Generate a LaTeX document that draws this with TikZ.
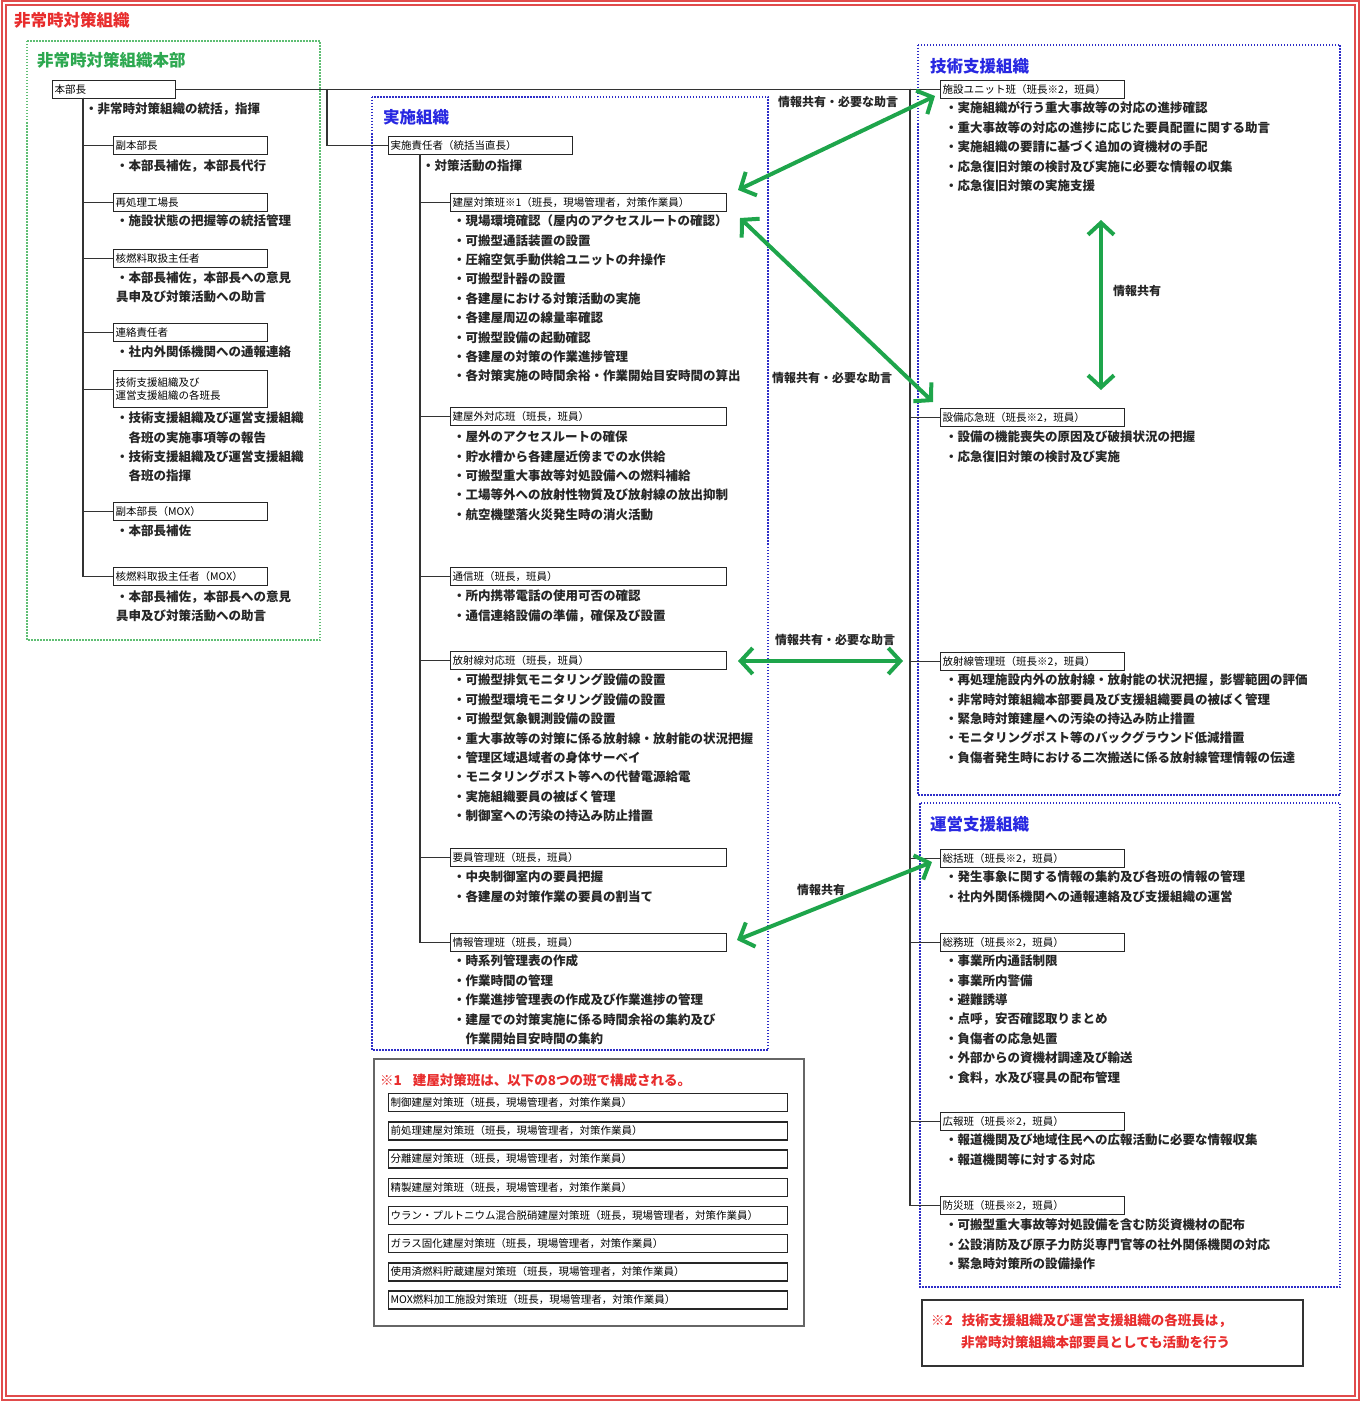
\documentclass[tikz,border=0pt]{standalone}
\usepackage{fontspec}
\setmainfont{Noto Sans CJK JP}
\usetikzlibrary{arrows.meta}

\definecolor{redT}{RGB}{232,45,45}
\definecolor{greenT}{RGB}{45,168,80}
\definecolor{blueT}{RGB}{40,40,225}
\definecolor{arrowG}{RGB}{30,165,75}
\definecolor{frameR}{RGB}{225,75,75}
\definecolor{dotG}{RGB}{95,190,115}
\definecolor{dotB}{RGB}{45,45,200}

\newcommand\boxfont{\fontsize{10.5}{13}\selectfont}
\newcommand\itemfont{\fontsize{12.5}{19.4}\selectfont\bfseries}
\newcommand\headfont{\fontsize{16.5}{20}\selectfont\bfseries}

\tikzset{
  hanbox/.style={draw=black!85, line width=1.3pt, anchor=north west, inner sep=2pt, minimum height=18pt, text width=#1, align=left, font=\boxfont},
  hanbox/.default=150pt,
  items/.style={anchor=north west, inner sep=0pt, align=left, font=\itemfont, text=black!85, yshift=6.3pt},
  head/.style={anchor=west, inner sep=0pt, font=\headfont},
  dotbox/.style={line width=1.5pt, dash pattern=on 1.5pt off 1.5pt},
  tree/.style={line width=1.2pt, draw=black!80},
  infoarrow/.style={draw=arrowG, line width=4pt, {Straight Barb[length=12pt,width=26pt]}-{Straight Barb[length=12pt,width=26pt]}},
  infolabel/.style={font=\fontsize{12}{14}\selectfont\bfseries, inner sep=0pt, text=black!85},
  notebox/.style={line width=2.8pt},
  notetext/.style={anchor=north west, inner sep=0pt, align=left, text=redT, font=\fontsize{13.5}{22}\selectfont\bfseries, yshift=6.8pt},
}

\begin{document}
\begin{tikzpicture}[x=1pt,y=-1pt]
\useasboundingbox (0,0) rectangle (1362,1402);
\draw[frameR, line width=1.5pt, double=white, double distance=2.5pt] (4,3) rectangle (1357,1398);
\node[head, text=redT] (title) at (14,20) {非常時対策組織};

% headquarters
\draw[dotbox, draw=dotG] (27,41) rectangle (320,640);
\node[head, text=greenT] (hqtitle) at (37,60) {非常時対策組織本部};
\node[hanbox=119pt] (hq) at (52,80) {本部長};
\node[items] (hqi) at (85,109) {・非常時対策組織の統括，指揮};
\node[hanbox] (l1) at (113,136) {副本部長};
\node[items] (l1i) at (116,166) {・本部長補佐，本部長代行};
\node[hanbox] (l2) at (113,193) {再処理工場長};
\node[items] (l2i) at (116,221) {・施設状態の把握等の統括管理};
\node[hanbox] (l3) at (113,249) {核燃料取扱主任者};
\node[items] (l3i) at (116,278) {・本部長補佐，本部長への意見\\具申及び対策活動への助言};
\node[hanbox] (l4) at (113,323) {連絡責任者};
\node[items] (l4i) at (116,352) {・社内外関係機関への通報連絡};
\node[hanbox, minimum height=37pt] (l5) at (113,370) {技術支援組織及び\\運営支援組織の各班長};
\node[items] (l5i) at (116,418) {・技術支援組織及び運営支援組織\\\phantom{・}各班の実施事項等の報告\\・技術支援組織及び運営支援組織\\\phantom{・}各班の指揮};
\node[hanbox] (l6) at (113,502) {副本部長（MOX）};
\node[items] (l6i) at (116,531) {・本部長補佐};
\node[hanbox] (l7) at (113,567) {核燃料取扱主任者（MOX）};
\node[items] (l7i) at (116,597) {・本部長補佐，本部長への意見\\具申及び対策活動への助言};
\coordinate (lspine) at (83,98);
\foreach \n in {l1,l2,l3,l4,l5,l6,l7}
  \draw[tree] (lspine) |- (\n.west);

% execution
\draw[dotbox, draw=dotB] (372,97) rectangle (768,1050);
\node[head, text=blueT] (extitle) at (383,117) {実施組織};
\node[hanbox=180pt] (jc) at (388,136) {実施責任者（統括当直長）};
\node[items] (jci) at (422,166) {・対策活動の指揮};
\node[hanbox=272pt] (m1) at (450,193) {建屋対策班※1（班長，現場管理者，対策作業員）};
\node[items] (m1i) at (453,221) {・現場環境確認（屋内のアクセスルートの確認）\\・可搬型通話装置の設置\\・圧縮空気手動供給ユニットの弁操作\\・可搬型計器の設置\\・各建屋における対策活動の実施\\・各建屋周辺の線量率確認\\・可搬型設備の起動確認\\・各建屋の対策の作業進捗管理\\・各対策実施の時間余裕・作業開始目安時間の算出};
\node[hanbox=272pt] (m2) at (450,407) {建屋外対応班（班長，班員）};
\node[items] (m2i) at (453,437) {・屋外のアクセスルートの確保\\・貯水槽から各建屋近傍までの水供給\\・可搬型重大事故等対処設備への燃料補給\\・工場等外への放射性物質及び放射線の放出抑制\\・航空機墜落火災発生時の消火活動};
\node[hanbox=272pt] (m3) at (450,567) {通信班（班長，班員）};
\node[items] (m3i) at (453,596) {・所内携帯電話の使用可否の確認\\・通信連絡設備の準備，確保及び設置};
\node[hanbox=272pt] (m4) at (450,651) {放射線対応班（班長，班員）};
\node[items] (m4i) at (453,680) {・可搬型排気モニタリング設備の設置\\・可搬型環境モニタリング設備の設置\\・可搬型気象観測設備の設置\\・重大事故等の対策に係る放射線・放射能の状況把握\\・管理区域退域者の身体サーベイ\\・モニタリングポスト等への代替電源給電\\・実施組織要員の被ばく管理\\・制御室への汚染の持込み防止措置};
\node[hanbox=272pt] (m5) at (450,848) {要員管理班（班長，班員）};
\node[items] (m5i) at (453,877) {・中央制御室内の要員把握\\・各建屋の対策作業の要員の割当て};
\node[hanbox=272pt] (m6) at (450,933) {情報管理班（班長，班員）};
\node[items] (m6i) at (453,961) {・時系列管理表の作成\\・作業時間の管理\\・作業進捗管理表の作成及び作業進捗の管理\\・建屋での対策実施に係る時間余裕の集約及び\\\phantom{・}作業開始目安時間の集約};
\coordinate (mtap) at (327,89);
\draw[tree] (mtap) |- (jc.west);
\coordinate (mspine) at (420,154);
\foreach \n in {m1,m2,m3,m4,m5,m6}
  \draw[tree] (mspine) |- (\n.west);

% note 1
\draw[notebox, draw=black!60] (374,1059) rectangle (804,1326);
\node[notetext] (note1) at (380,1080) {※1\hspace{11pt}建屋対策班は、以下の8つの班で構成される。};
\foreach \t [count=\i from 0] in {制御建屋対策班,前処理建屋対策班,分離建屋対策班,精製建屋対策班,ウラン・プルトニウム混合脱硝建屋対策班,ガラス固化建屋対策班,使用済燃料貯蔵建屋対策班,MOX燃料加工施設対策班}
  \node[hanbox=395pt] (sub\i) at (388,1093+28.2*\i) {\t（班長，現場管理者，対策作業員）};

% technical support
\draw[dotbox, draw=dotB] (918,45) rectangle (1340,795);
\node[head, text=blueT] (tstitle) at (930,66) {技術支援組織};
\node[hanbox=180pt] (r1) at (940,80) {施設ユニット班（班長※2，班員）};
\node[items] (r1i) at (945,108) {・実施組織が行う重大事故等の対応の進捗確認\\・重大事故等の対応の進捗に応じた要員配置に関する助言\\・実施組織の要請に基づく追加の資機材の手配\\・応急復旧対策の検討及び実施に必要な情報の収集\\・応急復旧対策の実施支援};
\node[hanbox=180pt] (r2) at (940,408) {設備応急班（班長※2，班員）};
\node[items] (r2i) at (945,437) {・設備の機能喪失の原因及び破損状況の把握\\・応急復旧対策の検討及び実施};
\node[hanbox=180pt] (r3) at (940,652) {放射線管理班（班長※2，班員）};
\node[items] (r3i) at (945,680) {・再処理施設内外の放射線・放射能の状況把握，影響範囲の評価\\・非常時対策組織本部要員及び支援組織要員の被ばく管理\\・緊急時対策建屋への汚染の持込み防止措置\\・モニタリングポスト等のバックグラウンド低減措置\\・負傷者発生時における二次搬送に係る放射線管理情報の伝達};

% operation support
\draw[dotbox, draw=dotB] (920,803) rectangle (1340,1287);
\node[head, text=blueT] (ostitle) at (930,824) {運営支援組織};
\node[hanbox=180pt] (r4) at (940,849) {総括班（班長※2，班員）};
\node[items] (r4i) at (945,877) {・発生事象に関する情報の集約及び各班の情報の管理\\・社内外関係機関への通報連絡及び支援組織の運営};
\node[hanbox=180pt] (r5) at (940,933) {総務班（班長※2，班員）};
\node[items] (r5i) at (945,961) {・事業所内通話制限\\・事業所内警備\\・避難誘導\\・点呼，安否確認取りまとめ\\・負傷者の応急処置\\・外部からの資機材調達及び輸送\\・食料，水及び寝具の配布管理};
\node[hanbox=180pt] (r6) at (940,1112) {広報班（班長※2，班員）};
\node[items] (r6i) at (945,1140) {・報道機関及び地域住民への広報活動に必要な情報収集\\・報道機関等に対する対応};
\node[hanbox=180pt] (r7) at (940,1196) {防災班（班長※2，班員）};
\node[items] (r7i) at (945,1225) {・可搬型重大事故等対処設備を含む防災資機材の配布\\・公設消防及び原子力防災専門官等の社外関係機関の対応\\・緊急時対策所の設備操作};
\draw[tree] (hq.east) -- (r1.west);
\coordinate (rspine) at (910,89);
\foreach \n in {r2,r3,r4,r5,r6,r7}
  \draw[tree] (rspine) |- (\n.west);

% note 2
\draw[notebox, draw=black!80] (922,1300) rectangle (1303,1366);
\node[notetext] (note2) at (931,1320) {※2\hspace{9pt}技術支援組織及び運営支援組織の各班長は，\\\hspace*{30pt}非常時対策組織本部要員としても活動を行う};

% information sharing
\coordinate (a1w) at (738,190); \coordinate (a1e) at (935,96);
\coordinate (a2w) at (740,218); \coordinate (a2e) at (933,402);
\coordinate (a3n) at (1101,220); \coordinate (a3s) at (1101,390);
\coordinate (a4w) at (738,661); \coordinate (a4e) at (903,661);
\coordinate (a5w) at (737,940); \coordinate (a5e) at (932,862);
\draw[infoarrow] (a1w) -- (a1e);
\draw[infoarrow] (a2w) -- (a2e);
\draw[infoarrow] (a3n) -- (a3s);
\draw[infoarrow] (a4w) -- (a4e);
\draw[infoarrow] (a5w) -- (a5e);
\node[infolabel] (lab1) at (838,102) {情報共有・必要な助言};
\node[infolabel] (lab2) at (832,378) {情報共有・必要な助言};
\node[infolabel] (lab3) at (1137,291) {情報共有};
\node[infolabel] (lab4) at (835,640) {情報共有・必要な助言};
\node[infolabel] (lab5) at (821,890) {情報共有};
\end{tikzpicture}
\end{document}
